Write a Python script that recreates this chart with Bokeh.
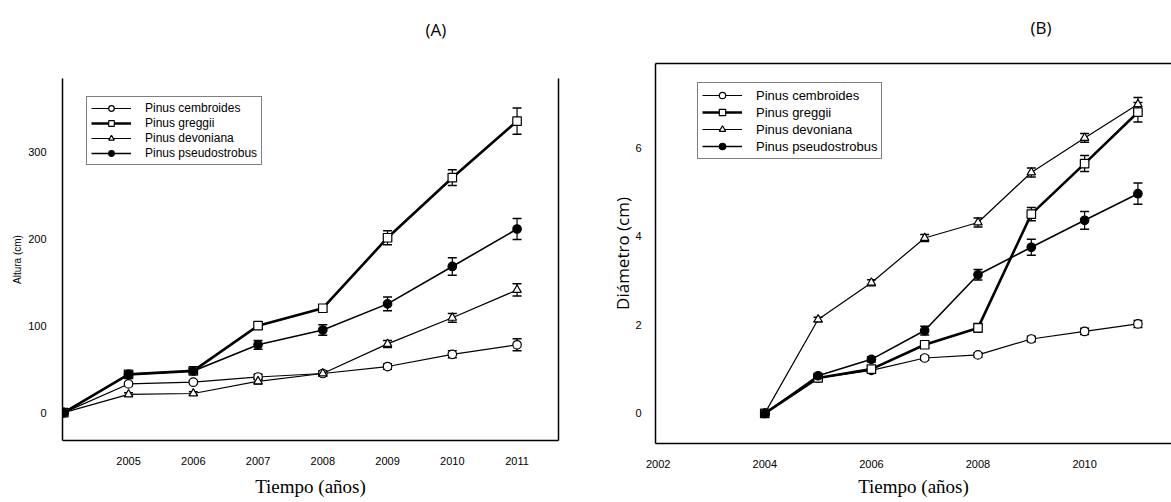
from bokeh.plotting import figure
from bokeh.layouts import row, column
from bokeh.models import (Whisker, TeeHead, ColumnDataSource, Legend, LegendItem,
                          LinearAxis, FixedTicker, Title, Range1d)
from bokeh.embed import file_html
from bokeh.resources import INLINE

# ---------------- data ----------------
years = [2004, 2005, 2006, 2007, 2008, 2009, 2010, 2011]
species = ["Pinus cembroides", "Pinus greggii", "Pinus devoniana", "Pinus pseudostrobus"]

# Panel A: height (cm)
alt_cembroides = [0, 33, 35, 41, 45, 53, 67, 78]
alt_greggii = [0, 44, 48, 100, 120, 201, 270, 335]
alt_devoniana = [0, 21, 22, 36, 45, 79, 109, 141]
alt_pseudostrobus = [0, 44, 48, 78, 95, 125, 168, 211]
alt_err_cembroides = [0, 2, 2, 3, 3, 3, 4, 7]
alt_err_greggii = [0, 3, 3, 4, 4, 8, 9, 15]
alt_err_devoniana = [0, 2, 2, 3, 3, 4, 5, 7]
alt_err_pseudostrobus = [0, 3, 3, 5, 6, 8, 10, 12]

# Panel B: diameter (cm)
dia_cembroides = [0, 0.80, 0.97, 1.25, 1.32, 1.68, 1.85, 2.02]
dia_greggii = [0, 0.80, 1.00, 1.55, 1.93, 4.50, 5.64, 6.80]
dia_devoniana = [0, 2.12, 2.95, 3.96, 4.31, 5.44, 6.22, 6.98]
dia_pseudostrobus = [0, 0.85, 1.22, 1.87, 3.13, 3.75, 4.36, 4.96]
dia_err_cembroides = [0, 0.03, 0.04, 0.05, 0.05, 0.06, 0.07, 0.08]
dia_err_greggii = [0, 0.05, 0.06, 0.08, 0.10, 0.15, 0.18, 0.22]
dia_err_devoniana = [0, 0.05, 0.07, 0.08, 0.10, 0.10, 0.10, 0.15]
dia_err_pseudostrobus = [0, 0.05, 0.06, 0.10, 0.12, 0.18, 0.20, 0.24]

ticks_a_x = [2005, 2006, 2007, 2008, 2009, 2010, 2011]
ticks_a_y = [0, 100, 200, 300]
ticks_b_x = [2002, 2004, 2006, 2008, 2010]
ticks_b_y = [0, 2, 4, 6]

markers = ["circle", "square", "triangle", "circle"]
fills = ["white", "white", "white", "black"]
widths = [1.2, 2.6, 1.2, 1.6]

SANS = "Liberation Sans"


def draw_series(p, ys, errs):
    items = []
    for name, y, e, mk, fc, lw in zip(species, ys, errs, markers, fills, widths):
        src = ColumnDataSource(dict(x=years, y=y,
                                    lo=[a - b for a, b in zip(y, e)],
                                    hi=[a + b for a, b in zip(y, e)]))
        ln = p.line("x", "y", source=src, line_color="black", line_width=lw)
        w = Whisker(source=src, base="x", lower="lo", upper="hi",
                    line_color="black", line_width=1.2,
                    upper_head=TeeHead(size=9, line_color="black", line_width=1.5),
                    lower_head=TeeHead(size=9, line_color="black", line_width=1.5))
        p.add_layout(w)
        sc = p.scatter("x", "y", source=src, marker=mk, size=8.5,
                       fill_color=fc, line_color="black", line_width=1.2)
        items.append(LegendItem(label=name, renderers=[ln, sc]))
    return items


def style_legend(p, items, loc, fs, lh):
    leg = Legend(items=items, location=loc, glyph_width=40, glyph_height=lh,
                 label_text_font=SANS, label_text_font_size=fs,
                 label_text_color="black",
                 label_height=lh, spacing=1, padding=4, margin=0,
                 label_standoff=14,
                 border_line_color="black", border_line_width=1.2,
                 background_fill_alpha=1)
    p.add_layout(leg, "center")


def style_axes(ax, size="11px"):
    ax.major_tick_line_color = None
    ax.minor_tick_line_color = None
    ax.major_label_text_font = SANS
    ax.major_label_text_font_size = size
    ax.major_label_text_color = "black"
    ax.axis_label_text_color = "black"
    ax.axis_line_color = "black"
    ax.axis_line_width = 1.5


def title(text, offset, standoff=0):
    return Title(text=text, align="left", offset=offset, standoff=standoff,
                 text_font="Open Sans", text_font_size="17px",
                 text_font_style="normal", text_color="black")


# ---------------- panel A ----------------
p1 = figure(width=590, height=502, output_backend="svg", toolbar_location=None,
            x_range=Range1d(2003.98, 2011.64), y_range=Range1d(-32, 384),
            min_border_left=62, min_border_right=32, min_border_top=78,
            min_border_bottom=62)
p1.outline_line_color = None
p1.grid.visible = False
p1.xaxis.ticker = FixedTicker(ticks=ticks_a_x)
p1.yaxis.ticker = FixedTicker(ticks=ticks_a_y)
style_axes(p1.xaxis[0])
style_axes(p1.yaxis[0])
p1.xaxis.major_label_standoff = 10
p1.yaxis.major_label_standoff = 10
p1.xaxis.axis_label = "Tiempo (años)"
p1.xaxis.axis_label_text_font = "Liberation Serif"
p1.xaxis.axis_label_text_font_style = "normal"
p1.xaxis.axis_label_text_font_size = "19px"
p1.xaxis.axis_label_standoff = 8
p1.yaxis.axis_label = "Altura (cm)"
p1.yaxis.axis_label_text_font = SANS
p1.yaxis.axis_label_text_font_style = "normal"
p1.yaxis.axis_label_text_font_size = "10px"
p1.yaxis.axis_label_standoff = 2
rax = LinearAxis(ticker=FixedTicker(ticks=[]), major_label_text_font_size="0px",
                 axis_line_width=1.5)
rax.major_tick_line_color = None
rax.minor_tick_line_color = None
p1.add_layout(rax, "right")

items_a = draw_series(p1, [alt_cembroides, alt_greggii, alt_devoniana, alt_pseudostrobus],
                      [alt_err_cembroides, alt_err_greggii, alt_err_devoniana, alt_err_pseudostrobus])
style_legend(p1, items_a, (24, 275), "12px", 14)
p1.add_layout(title(" ", 0, 13), "above")      # blank spacer between frame and panel title
p1.add_layout(title("(A)", 363), "above")

# ---------------- panel B ----------------
p2 = figure(width=581, height=502, output_backend="svg", toolbar_location=None,
            x_range=Range1d(2001.95, 2011.63), y_range=Range1d(-0.68, 7.9),
            min_border_left=65, min_border_right=0, min_border_top=63,
            min_border_bottom=59)
p2.outline_line_color = None
p2.grid.visible = False
p2.xaxis.ticker = FixedTicker(ticks=ticks_b_x)
p2.yaxis.ticker = FixedTicker(ticks=ticks_b_y)
style_axes(p2.xaxis[0])
style_axes(p2.yaxis[0])
p2.xaxis.major_label_standoff = 10
p2.yaxis.major_label_standoff = 8
p2.xaxis.axis_label = "Tiempo (años)"
p2.xaxis.axis_label_text_font = "Liberation Serif"
p2.xaxis.axis_label_text_font_style = "normal"
p2.xaxis.axis_label_text_font_size = "19px"
p2.xaxis.axis_label_standoff = 5
p2.yaxis.axis_label = "Diámetro (cm)"
p2.yaxis.axis_label_text_font = "Open Sans"
p2.yaxis.axis_label_text_font_style = "normal"
p2.yaxis.axis_label_text_font_size = "17px"
p2.yaxis.axis_label_standoff = -2
tax = LinearAxis(ticker=FixedTicker(ticks=[]), major_label_text_font_size="0px",
                 axis_line_width=1.5)
tax.major_tick_line_color = None
tax.minor_tick_line_color = None
p2.add_layout(tax, "above")

items_b = draw_series(p2, [dia_cembroides, dia_greggii, dia_devoniana, dia_pseudostrobus],
                      [dia_err_cembroides, dia_err_greggii, dia_err_devoniana, dia_err_pseudostrobus])
style_legend(p2, items_b, (42, 284), "13px", 16)
p2.add_layout(title(" ", 0, 0), "above")       # blank spacer between frame and panel title
p2.add_layout(title("(B)", 375), "above")

layout = row(column(p1), column(p2))
open("out.html", "w").write(file_html(layout, INLINE))
